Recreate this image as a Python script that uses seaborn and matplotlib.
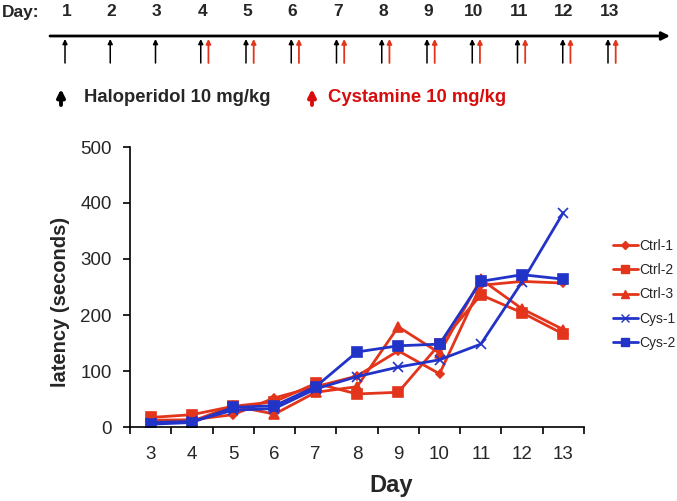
import pandas as pd
import matplotlib.pyplot as plt
import seaborn as sns

sns.set_style("white")
plt.rcParams['font.family'] = ['Liberation Sans', 'DejaVu Sans']

# latency (seconds) per day
days = [3, 4, 5, 6, 7, 8, 9, 10, 11, 12, 13]
ctrl_1 = [12, 13, 22, 52, 72, 91, 136, 95, 253, 260, 257]
ctrl_2 = [17, 22, 37, 45, 78, 59, 62, 148, 236, 204, 166]
ctrl_3 = [12, 10, 38, 23, 62, 72, 179, 132, 264, 211, 174]
cys_1 = [8, 10, 30, 33, 68, 90, 107, 120, 148, 259, 383]
cys_2 = [5, 8, 35, 38, 72, 134, 145, 148, 260, 272, 264]

series_names = ["Ctrl-1", "Ctrl-2", "Ctrl-3", "Cys-1", "Cys-2"]
series_values = [ctrl_1, ctrl_2, ctrl_3, cys_1, cys_2]

# dosing schedule for the timeline on top
schedule_days = list(range(1, 14))
haloperidol_days = list(range(1, 14))
cystamine_days = list(range(4, 14))

RED = "#E2351B"
BLUE = "#2233C8"
palette = {"Ctrl-1": RED, "Ctrl-2": RED, "Ctrl-3": RED, "Cys-1": BLUE, "Cys-2": BLUE}
markers = {"Ctrl-1": "D", "Ctrl-2": "s", "Ctrl-3": "^", "Cys-1": "x", "Cys-2": "s"}
sizes = {"Ctrl-1": 4.5, "Ctrl-2": 6.5, "Ctrl-3": 6.5, "Cys-1": 6.5, "Cys-2": 6.5}

df = pd.DataFrame(
    [(d, v, name) for name, vals in zip(series_names, series_values) for d, v in zip(days, vals)],
    columns=["Day", "latency", "group"],
)

fig = plt.figure(figsize=(6.77, 5.01), dpi=100)
W, H = 677, 501

# ---- main line chart ----
ax = fig.add_axes([130 / W, 1 - 427 / H, 454 / W, 280 / H])
for name in series_names:
    sns.lineplot(data=df[df["group"] == name], x="Day", y="latency", color=palette[name],
                 marker=markers[name], markersize=sizes[name], markeredgecolor=palette[name],
                 markeredgewidth=1.2, linewidth=2.0, ax=ax, label=name, legend=False)

ax.set_xlim(days[0] - 0.5, days[-1] + 0.5)
ax.set_ylim(0, 500)
ax.set_yticks(range(0, 501, 100))
ax.set_xticks(days)
ax.set_xticks([d - 0.5 for d in days] + [days[-1] + 0.5], minor=True)
ax.tick_params(axis="x", which="major", length=0, labelsize=13.5, pad=14)
ax.tick_params(axis="x", which="minor", length=5, width=1.2, direction="out", color="black", bottom=True)
ax.tick_params(axis="y", length=5, width=1.2, direction="out", color="black", labelsize=13.5,
               left=True, pad=8)
for side in ["top", "right"]:
    ax.spines[side].set_visible(False)
for side in ["left", "bottom"]:
    ax.spines[side].set_color("black")
    ax.spines[side].set_linewidth(1.2)
ax.set_xlabel("Day", fontsize=17, fontweight="bold")
ax.set_ylabel("latency (seconds)", fontsize=14.5, fontweight="bold")
ax.xaxis.set_label_coords((391 - 130) / 454, (427 - 474) / 280)
ax.yaxis.set_label_coords((70 - 130) / 454, (427 - 302) / 280)

handles = [plt.Line2D([], [], color=palette[n], marker=markers[n], markersize=sizes[n] * 0.9,
                      markeredgecolor=palette[n], linewidth=2.0) for n in series_names]
fig.legend(handles, series_names, loc="upper left", bbox_to_anchor=(607 / W, 1 - 233 / H),
           frameon=False, fontsize=10, handlelength=1.8, handletextpad=0.15,
           labelspacing=0.75, borderaxespad=0)

# ---- dosing timeline ----
tax = fig.add_axes([0, 1 - 110 / H, 1, 110 / H])
px_per_day = 45.25
x0 = 1 - 65 / px_per_day
tax.set_xlim(x0, x0 + W / px_per_day)
tax.set_ylim(110, 0)
tax.axis("off")

tax.text(x0 + 2 / px_per_day, 12, "Day:", fontsize=12.5, fontweight="bold", ha="left", va="center")
for d in schedule_days:
    tax.text(d + 0.03, 12, str(d), fontsize=12.5, fontweight="bold", ha="center", va="center")

tax.annotate("", xy=(x0 + 670 / px_per_day, 36), xytext=(x0 + 50 / px_per_day, 36),
             arrowprops=dict(arrowstyle="-|>", color="black", lw=2.0, mutation_scale=12,
                             shrinkA=0, shrinkB=0))
for d in haloperidol_days:
    tax.annotate("", xy=(d, 39), xytext=(d, 63),
                 arrowprops=dict(arrowstyle="-|>", color="black", lw=1.1, mutation_scale=7,
                                 shrinkA=0, shrinkB=0))
for d in cystamine_days:
    tax.annotate("", xy=(d + 0.17, 39), xytext=(d + 0.17, 63),
                 arrowprops=dict(arrowstyle="-|>", color=RED, lw=1.3, mutation_scale=7,
                                 shrinkA=0, shrinkB=0))

# dosing legend
lx1 = x0 + 61 / px_per_day
lx2 = x0 + 312 / px_per_day
tax.annotate("", xy=(lx1, 89), xytext=(lx1, 105),
             arrowprops=dict(arrowstyle="-|>", color="black", lw=2.8, mutation_scale=11,
                             shrinkA=0, shrinkB=0))
tax.text(x0 + 84 / px_per_day, 97, "Haloperidol 10 mg/kg", fontsize=13.3, fontweight="bold",
         ha="left", va="center")
tax.annotate("", xy=(lx2, 89), xytext=(lx2, 105),
             arrowprops=dict(arrowstyle="-|>", color="#D80C0C", lw=2.8, mutation_scale=11,
                             shrinkA=0, shrinkB=0))
tax.text(x0 + 328 / px_per_day, 97, "Cystamine 10 mg/kg", fontsize=13.3, fontweight="bold",
         color="#D80C0C", ha="left", va="center")

fig.savefig("out.png", dpi=100, facecolor="white")
